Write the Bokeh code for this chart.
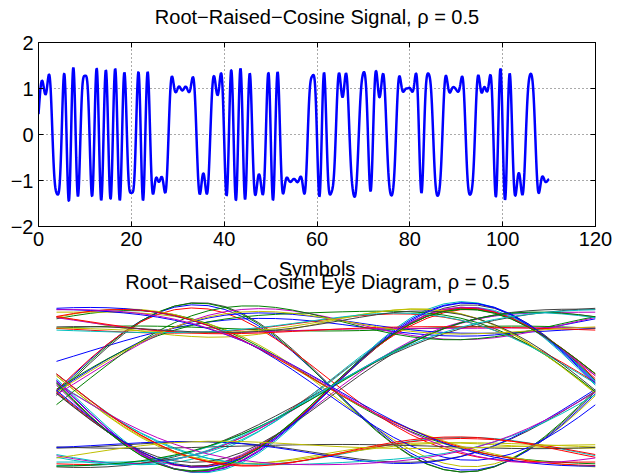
import numpy as np
from bokeh.plotting import figure
from bokeh.layouts import column
from bokeh.models import Range1d, FixedTicker, LinearAxis, Label
from bokeh.embed import file_html
from bokeh.resources import INLINE

# ---------------- data ----------------
rolloff = 0.5                 # rho
samples_per_symbol = 16
symbol_offset = 0.52          # symbol instants sit at k + offset
signal_end = 110              # last plotted time (symbols)
symbols = [
    1, 1, 1, -1, -1, 1, -1, 1, -1, 1,
    1, -1, 1, -1, 1, -1, 1, -1, 1, -1,
    -1, 1, -1, 1, -1, -1, -1, -1, 1, 1,
    1, 1, 1, 1, -1, -1, -1, 1, 1, 1,
    -1, 1, -1, 1, -1, 1, -1, -1, -1, 1,
    -1, 1, -1, -1, -1, -1, -1, -1, 1, 1,
    -1, 1, -1, -1, 1, 1, 1, -1, -1, 1,
    1, -1, 1, 1, 1, -1, -1, 1, 1, 1,
    1, 1, -1, 1, 1, -1, -1, 1, 1, 1,
    1, 1, -1, -1, 1, 1, 1, 1, -1, 1,
    -1, 1, -1, -1, -1, 1, 1, -1, -1, -1,
    -1, -1,
]
x_ticks = [0, 20, 40, 60, 80, 100, 120]
y_ticks = [-2, -1, 0, 1, 2]
trace_span = 2                # symbols per eye-diagram trace
trace_colors = ["#0000FF", "#008000", "#FF0000", "#00BFBF",
                "#BF00BF", "#BFBF00", "#404040"]
title_top = "Root\u2212Raised\u2212Cosine Signal, \u03c1 = 0.5"
title_eye = "Root\u2212Raised\u2212Cosine Eye Diagram, \u03c1 = 0.5"
x_label = "Symbols"


# ---------------- root-raised-cosine pulse shaping ----------------
def rrc(t, b):
    t = np.asarray(t, dtype=float)
    out = np.zeros_like(t)
    eps = 1e-9
    z = np.abs(t) < eps
    s = np.abs(np.abs(t) - 1.0 / (4 * b)) < eps
    r = ~(z | s)
    tr = t[r]
    out[r] = (np.sin(np.pi * tr * (1 - b)) + 4 * b * tr * np.cos(np.pi * tr * (1 + b))) / (
        np.pi * tr * (1 - (4 * b * tr) ** 2))
    out[z] = 1 - b + 4 * b / np.pi
    out[s] = (b / np.sqrt(2)) * ((1 + 2 / np.pi) * np.sin(np.pi / (4 * b)) +
                                 (1 - 2 / np.pi) * np.cos(np.pi / (4 * b)))
    return out


t = np.arange(0, signal_end * samples_per_symbol + 1) / samples_per_symbol
sig = np.zeros_like(t)
for k, s_k in enumerate(symbols):
    d = t - (k + symbol_offset)
    m = np.abs(d) < 10
    sig[m] += s_k * rrc(d[m], rolloff)

# ---------------- layout constants (pixels) ----------------
W = 618
H_TOTAL = 474
FR_L, FR_R, FR_T, FR_B = 38, 595, 42, 226
H1 = 254
H2 = H_TOTAL - H1
FONT = "Liberation Sans"
FS = "20px"

# ---------------- top plot ----------------
p1 = figure(width=W, height=H1, x_range=Range1d(0, 120), y_range=Range1d(-2, 2),
            title=None, output_backend="svg", toolbar_location=None, tools="",
            min_border_left=FR_L, min_border_right=W - FR_R,
            min_border_top=FR_T, min_border_bottom=H1 - FR_B)
p1.background_fill_color = "white"
p1.border_fill_color = "white"
p1.outline_line_color = "black"
p1.outline_line_width = 1

p1.line(t, sig, line_color="#0000FF", line_width=2.5)

for ax in (p1.xaxis[0], p1.yaxis[0]):
    ax.major_tick_in = 5
    ax.major_tick_out = 0
    ax.minor_tick_line_color = None
    ax.axis_line_color = "black"
    ax.major_tick_line_color = "black"
    ax.major_label_text_font = FONT
    ax.major_label_text_font_size = FS
    ax.major_label_text_color = "black"
    ax.major_label_standoff = 5
p1.xaxis[0].ticker = FixedTicker(ticks=x_ticks)
p1.yaxis[0].ticker = FixedTicker(ticks=y_ticks)
p1.yaxis[0].major_label_overrides = {-2: "\u22122", -1: "\u22121"}

for loc in ("above", "right"):
    a = LinearAxis(ticker=FixedTicker(ticks=x_ticks if loc == "above" else y_ticks))
    a.major_tick_in = 5
    a.major_tick_out = 0
    a.minor_tick_line_color = None
    a.major_label_text_color = None
    a.major_label_text_font_size = "1px"
    a.major_label_standoff = 0
    a.axis_line_color = "black"
    if loc == "above":
        # the chart title sits above the top edge of the box
        a.axis_label = title_top
        a.axis_label_text_font = FONT
        a.axis_label_text_font_size = FS
        a.axis_label_text_font_style = "normal"
        a.axis_label_text_color = "black"
        a.axis_label_standoff = 15
    p1.add_layout(a, loc)

p1.xgrid.ticker = FixedTicker(ticks=x_ticks)
p1.ygrid.ticker = FixedTicker(ticks=y_ticks)
for g in (p1.xgrid[0], p1.ygrid[0]):
    g.grid_line_color = "#555555"
    g.grid_line_dash = "1 3"
    g.grid_line_width = 1

# ---------------- eye diagram ----------------
EYE_L, EYE_R = 56, 595        # pixel span of one trace
EYE_ZERO, EYE_UNIT = 387, 59  # pixel row of 0 and pixels per unit
ex = (EYE_R - EYE_L) / trace_span
x0 = -(EYE_L - FR_L) / ex
x1 = trace_span + (FR_R - EYE_R) / ex
y1 = (EYE_ZERO - H1) / EYE_UNIT
y0 = (EYE_ZERO - H_TOTAL) / EYE_UNIT

p2 = figure(width=W, height=H2, x_range=Range1d(x0, x1), y_range=Range1d(y0, y1),
            x_axis_type=None, y_axis_type=None, output_backend="svg",
            toolbar_location=None, tools="",
            min_border_left=FR_L, min_border_right=W - FR_R,
            min_border_top=0, min_border_bottom=0)
p2.outline_line_color = None
p2.background_fill_color = "white"
p2.border_fill_color = "white"
p2.grid.visible = False

n_seg = trace_span * samples_per_symbol
xs, ys, cs = [], [], []
n_traces = (len(t) - 1) // n_seg
for j in range(n_traces):
    seg_t = t[j * n_seg:(j + 1) * n_seg + 1] - t[j * n_seg]
    seg_y = sig[j * n_seg:(j + 1) * n_seg + 1]
    xs.append(list(seg_t))
    ys.append(list(seg_y))
    cs.append(trace_colors[j % len(trace_colors)])
p2.multi_line(xs=xs, ys=ys, line_color=cs, line_width=1)

p2.add_layout(Label(x=(316.5 - EYE_L) / ex, y=(EYE_ZERO - 268.3) / EYE_UNIT, text=x_label,
                    text_align="center", text_baseline="alphabetic",
                    text_font=FONT, text_font_size=FS, text_color="black"))
p2.add_layout(Label(x=(317 - EYE_L) / ex, y=(EYE_ZERO - 281.7) / EYE_UNIT, text=title_eye,
                    text_align="center", text_baseline="alphabetic",
                    text_font=FONT, text_font_size=FS, text_color="black"))

layout = column(p1, p2, spacing=0)
open("out.html", "w").write(file_html(layout, INLINE))
